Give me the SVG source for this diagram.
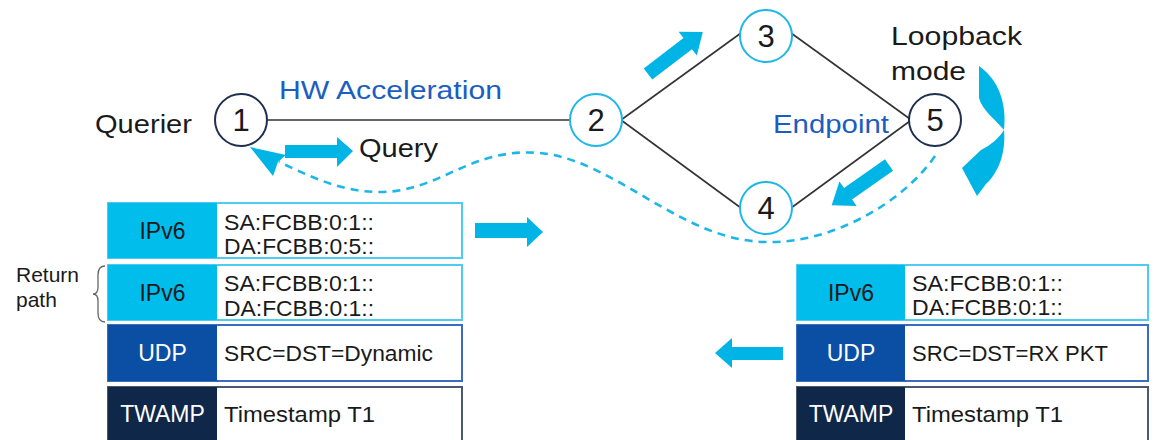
<svg xmlns="http://www.w3.org/2000/svg" width="1157" height="440" viewBox="0 0 1157 440">
<defs>
<style>
text{font-family:"Liberation Sans",Arial,sans-serif;}
.lbl{font-size:25px;fill:#1a1a1a;}
.blue{font-size:25px;fill:#1c5ebf;}
.num{font-size:31px;fill:#1a1a1a;text-anchor:middle;}
.nodeDark{fill:#fff;stroke:#1f2f4f;stroke-width:2;}
.nodeCyan{fill:#fff;stroke:#1cb6e8;stroke-width:2;}
.link{stroke:#333;stroke-width:1.6;fill:none;}
.dash{stroke:#1cb6e8;stroke-width:2.6;fill:none;stroke-dasharray:8 6;}
.blk{fill:#00b5e6;}
.cell{font-size:22px;fill:#1a1a1a;}
.hdr{font-size:23px;text-anchor:middle;}
.rowC{fill:#fff;stroke:#4fcaf0;stroke-width:2;}
.rowU{fill:#fff;stroke:#3b6cc2;stroke-width:2;}
.rowT{fill:#fff;stroke:#4a5870;stroke-width:2;}
.cyanF{fill:#00bdeb;}
.udpF{fill:#0b4fa5;}
.twF{fill:#0f2749;}
</style>
</defs>
<rect width="1157" height="440" fill="#fff"/>

<g id="connectors">
<line class="link" x1="267" y1="120" x2="570" y2="120"/>
<line class="link" x1="621" y1="120" x2="741" y2="33"/>
<line class="link" x1="621" y1="120" x2="741" y2="208"/>
<line class="link" x1="791" y1="33" x2="910" y2="119"/>
<line class="link" x1="791" y1="208" x2="910" y2="121"/>
<path class="dash" d="M 935,156 C 905,200 835,244 765,242 C 680,240 615,160 540,153 C 470,147 440,192 380,192 C 340,192 310,176 279,162"/>
<polygon class="blk" points="250,147 286,155 278,162 273,176"/>
<polygon class="blk" points="285,145 337,145 337,137 353,151 337,167 337,158 285,158"/>
<polygon class="blk" transform="translate(648,74) rotate(-37.4)" points="0,-7 50,-7 50,-15 69,0 50,15 50,7 0,7"/>
<polygon class="blk" transform="translate(889,165) rotate(145)" points="0,-7 50,-7 50,-15 70,0 50,15 50,7 0,7"/>
<path class="blk" d="M 979,66 C 999,80 1007,104 1004,130 C 995,119 982,110 979,98 Z"/>
<path class="blk" d="M 1004,130 C 1006,152 999,172 986,184 L 977,196 L 962,168 L 981,150 C 991,145 999,138 1004,130 Z"/>
<polygon class="blk" points="475,223 527,223 527,217 543,232 527,247 527,238 475,238"/>
<polygon class="blk" points="715,353 732,338 732,347 783,347 783,360 732,360 732,368"/>
</g>

<g id="node1">
<circle class="nodeDark" cx="241" cy="120" r="26"/>
<text class="num" x="241" y="131">1</text>
</g>
<g id="node2">
<circle class="nodeCyan" cx="596" cy="120" r="26"/>
<text class="num" x="596" y="131">2</text>
</g>
<g id="node3">
<circle class="nodeCyan" cx="766" cy="36" r="26"/>
<text class="num" x="766" y="47">3</text>
</g>
<g id="node4">
<circle class="nodeCyan" cx="766" cy="208" r="26"/>
<text class="num" x="766" y="219">4</text>
</g>
<g id="node5">
<circle class="nodeDark" cx="935" cy="120" r="26"/>
<text class="num" x="935" y="131">5</text>
</g>

<g id="labels">
<text class="lbl" x="95" y="133" textLength="97" lengthAdjust="spacingAndGlyphs">Querier</text>
<text class="blue" x="279" y="99" textLength="223" lengthAdjust="spacingAndGlyphs">HW Acceleration</text>
<text class="lbl" x="359" y="157" textLength="79" lengthAdjust="spacingAndGlyphs">Query</text>
<text class="blue" x="773" y="133" textLength="116" lengthAdjust="spacingAndGlyphs">Endpoint</text>
<text class="lbl" x="891" y="45" textLength="131" lengthAdjust="spacingAndGlyphs">Loopback</text>
<text class="lbl" x="891" y="80" textLength="75" lengthAdjust="spacingAndGlyphs">mode</text>
</g>

<g id="returnPath">
<text class="cell" x="16" y="282" style="font-size:21px">Return</text>
<text class="cell" x="16" y="307" style="font-size:21px">path</text>
<path d="M 105,266 Q 98,266 98,275 L 98,287 Q 98,294 93,294 Q 98,294 98,301 L 98,313 Q 98,322 105,322" fill="none" stroke="#666" stroke-width="1.3"/>
</g>

<g id="leftPacket">
<rect class="rowC" x="108" y="203" width="354" height="55"/>
<rect class="cyanF" x="108" y="203" width="109" height="55"/>
<text class="hdr" x="162.5" y="239" fill="#1a1a1a">IPv6</text>
<text class="cell" x="224" y="230" textLength="150" lengthAdjust="spacingAndGlyphs">SA:FCBB:0:1::</text>
<text class="cell" x="224" y="254" textLength="150" lengthAdjust="spacingAndGlyphs">DA:FCBB:0:5::</text>

<rect class="rowC" x="108" y="265" width="354" height="55"/>
<rect class="cyanF" x="108" y="265" width="109" height="55"/>
<text class="hdr" x="162.5" y="301" fill="#1a1a1a">IPv6</text>
<text class="cell" x="224" y="291" textLength="150" lengthAdjust="spacingAndGlyphs">SA:FCBB:0:1::</text>
<text class="cell" x="224" y="316" textLength="150" lengthAdjust="spacingAndGlyphs">DA:FCBB:0:1::</text>

<rect class="rowU" x="108" y="325" width="354" height="56"/>
<rect class="udpF" x="108" y="325" width="109" height="56"/>
<text class="hdr" x="162.5" y="361" fill="#fff">UDP</text>
<text class="cell" x="224" y="361" textLength="209" lengthAdjust="spacingAndGlyphs">SRC=DST=Dynamic</text>

<rect class="rowT" x="108" y="387" width="354" height="60"/>
<rect class="twF" x="108" y="387" width="109" height="60"/>
<text class="hdr" x="162.5" y="422" fill="#fff">TWAMP</text>
<text class="cell" x="224" y="422" textLength="151" lengthAdjust="spacingAndGlyphs">Timestamp T1</text>
</g>

<g id="rightPacket">
<rect class="rowC" x="797" y="265" width="351" height="55"/>
<rect class="cyanF" x="797" y="265" width="108" height="55"/>
<text class="hdr" x="851" y="301" fill="#1a1a1a">IPv6</text>
<text class="cell" x="912" y="291" textLength="151" lengthAdjust="spacingAndGlyphs">SA:FCBB:0:1::</text>
<text class="cell" x="912" y="315" textLength="151" lengthAdjust="spacingAndGlyphs">DA:FCBB:0:1::</text>

<rect class="rowU" x="797" y="325" width="351" height="56"/>
<rect class="udpF" x="797" y="325" width="108" height="56"/>
<text class="hdr" x="851" y="361" fill="#fff">UDP</text>
<text class="cell" x="912" y="361" textLength="196" lengthAdjust="spacingAndGlyphs">SRC=DST=RX PKT</text>

<rect class="rowT" x="797" y="387" width="351" height="60"/>
<rect class="twF" x="797" y="387" width="108" height="60"/>
<text class="hdr" x="851" y="422" fill="#fff">TWAMP</text>
<text class="cell" x="912" y="422" textLength="151" lengthAdjust="spacingAndGlyphs">Timestamp T1</text>
</g>
</svg>
